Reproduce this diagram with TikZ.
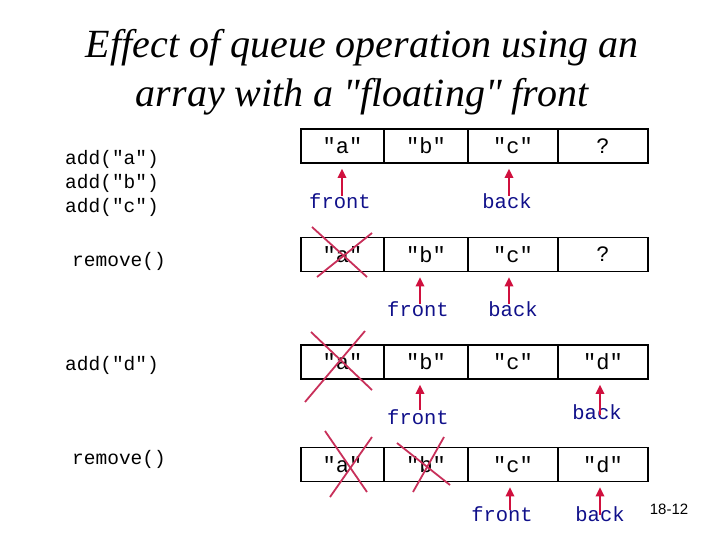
\documentclass[tikz,border=0pt]{standalone}
\usepackage{fontspec}
\setmainfont{Liberation Serif}
\newfontfamily\ttlf{Liberation Serif}
\newfontfamily\monof{Liberation Mono}
\newfontfamily\sansf{Liberation Sans}
\usetikzlibrary{arrows.meta}
\definecolor{arrred}{HTML}{D0103E}
\definecolor{xred}{HTML}{C8305A}
\definecolor{lblue}{HTML}{10108A}
\begin{document}
\begin{tikzpicture}[x=1pt,y=-1pt,
  cell/.style={draw,line width=1.6pt,inner sep=0pt,minimum height=34pt,font=\monof\fontsize{22}{24}\selectfont},
  cw/.style={minimum width=#1pt},
  code/.style={font=\monof\fontsize{19.5}{24}\selectfont,anchor=west,inner sep=0pt},
  lbl/.style={font=\monof\fontsize{20.5}{22}\selectfont,text=lblue,inner sep=0pt},
  arr/.style={draw=arrred,line width=1.8pt,-{Triangle[length=9pt,width=8.5pt]}},
  cross/.style={draw=xred,line width=1.8pt},
  ttl/.style={font=\ttlf\fontsize{40}{44}\selectfont\itshape,inner sep=0pt}]
\useasboundingbox (0,0) rectangle (720,540);
% title
\node[ttl] (t1) at (362,48) {Effect of queue operation using an};
\node[ttl] (t2) at (362,97) {array with a "floating" front};
% code
\node[code] (k1) at (65,159) {add("a")};
\node[code] (k2) at (65,183) {add("b")};
\node[code] (k3) at (65,207) {add("c")};
\node[code] (k4) at (72,261) {remove()};
\node[code] (k5) at (65,365) {add("d")};
\node[code] (k6) at (72,459) {remove()};
% row 1
\node[cell,cw=83] (r1a) at (342.5,146) {"a"};
\node[cell,cw=84] (r1b) at (426,146) {"b"};
\node[cell,cw=90] (r1c) at (513,146) {"c"};
\node[cell,cw=90] (r1d) at (603,146) {?};
% row 2
\node[cell,cw=83] (r2a) at (342.5,254.5) {"a"};
\node[cell,cw=84] (r2b) at (426,254.5) {"b"};
\node[cell,cw=90] (r2c) at (513,254.5) {"c"};
\node[cell,cw=90] (r2d) at (603,254.5) {?};
% row 3
\node[cell,cw=83] (r3a) at (342.5,362) {"a"};
\node[cell,cw=84] (r3b) at (426,362) {"b"};
\node[cell,cw=90] (r3c) at (513,362) {"c"};
\node[cell,cw=90] (r3d) at (603,362) {"d"};
% row 4
\node[cell,cw=83] (r4a) at (342.5,464.5) {"a"};
\node[cell,cw=84] (r4b) at (426,464.5) {"b"};
\node[cell,cw=90] (r4c) at (513,464.5) {"c"};
\node[cell,cw=90] (r4d) at (603,464.5) {"d"};
% labels
\node[lbl] (f1) at (340,201) {front};
\node[lbl] (b1) at (507,201) {back};
\node[lbl] (f2) at (418,309) {front};
\node[lbl] (b2) at (513,309) {back};
\node[lbl] (f3) at (418,417) {front};
\node[lbl] (b3) at (597,412) {back};
\node[lbl] (f4) at (502,514) {front};
\node[lbl] (b4) at (600,514) {back};
% arrow tails
\coordinate (a1) at (342,196);
\coordinate (a2) at (509,196);
\coordinate (a3) at (420,304);
\coordinate (a4) at (509,304);
\coordinate (a5) at (420,410);
\coordinate (a6) at (600,415);
\coordinate (a7) at (510,510);
\coordinate (a8) at (600,515);
\draw[arr,shorten >=5pt] (a1) -- (a1 |- r1a.south);
\draw[arr,shorten >=5pt] (a2) -- (a2 |- r1c.south);
\draw[arr,shorten >=5pt] (a3) -- (a3 |- r2b.south);
\draw[arr,shorten >=5pt] (a4) -- (a4 |- r2c.south);
\draw[arr,shorten >=5pt] (a5) -- (a5 |- r3b.south);
\draw[arr,shorten >=5pt] (a6) -- (a6 |- r3d.south);
\draw[arr,shorten >=5pt] (a7) -- (a7 |- r4c.south);
\draw[arr,shorten >=5pt] (a8) -- (a8 |- r4d.south);
% crosses
\draw[cross] (312,227) -- (367,277);
\draw[cross] (372,233) -- (317,277);
\draw[cross] (311,332) -- (372,390);
\draw[cross] (365,331) -- (305,402);
\draw[cross] (325,431) -- (367,492);
\draw[cross] (372,437) -- (330,497);
\draw[cross] (397,443) -- (450,485);
\draw[cross] (444,437) -- (413,492);
% page number
\node[font=\sansf\fontsize{15}{16}\selectfont,inner sep=0pt] (pg) at (669,509) {18-12};
\end{tikzpicture}
\end{document}
